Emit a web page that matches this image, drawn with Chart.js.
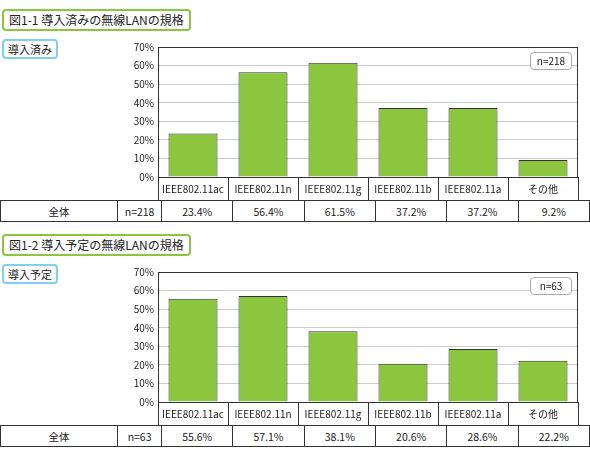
<!DOCTYPE html>
<html><head><meta charset="utf-8">
<script src="https://cdn.jsdelivr.net/npm/chart.js@4"></script>
<style>
body{margin:0;width:590px;height:457px;position:relative;background:#fff;font-family:"Noto Sans CJK JP",sans-serif;font-size:11px;color:#222;overflow:hidden}
.title{position:absolute;left:2px;border:2px solid #8cc63f;border-radius:4px;padding:1px 5px;font-size:12px;line-height:16px;background:#fff}
.tag{position:absolute;left:2px;border:2px solid #7fd0ef;border-radius:4px;padding:1px 4px;font-size:11px;line-height:14px}
.wrap{position:absolute;left:100px;width:480px;height:163px}
.nbox{position:absolute;left:530px;border:1px solid #aaa;border-radius:4px;width:40px;height:16px;line-height:16px;text-align:center;font-size:10px;background:#fff}
table{position:absolute;left:0;width:590px;border-collapse:collapse;table-layout:fixed}
td{border:1px solid #333;height:20px;padding:0;text-align:center;font-size:10.5px}
</style></head><body>
<div class="title" style="top:9px">図1-1 導入済みの無線LANの規格</div>
<div class="tag" style="top:39px">導入済み</div>
<div class="wrap" style="top:37px"><canvas id="c1"></canvas></div>
<div class="nbox" style="top:52px">n=218</div>
<table id="t1" style="top:200px"></table>

<div class="title" style="top:234px">図1-2 導入予定の無線LANの規格</div>
<div class="tag" style="top:264px">導入予定</div>
<div class="wrap" style="top:262px"><canvas id="c2"></canvas></div>
<div class="nbox" style="top:277px">n=63</div>
<table id="t2" style="top:425px"></table>
<script>
var categories = ['IEEE802.11ac', 'IEEE802.11n', 'IEEE802.11g', 'IEEE802.11b', 'IEEE802.11a', 'その他'];
var installed  = [23.4, 56.4, 61.5, 37.2, 37.2, 9.2];
var planned    = [55.6, 57.1, 38.1, 20.6, 28.6, 22.2];
var nInstalled = 218, nPlanned = 63;

function buildTable(id, n, values) {
  var html = '<colgroup><col style="width:115px"><col style="width:43px">' +
    values.map(function() { return '<col style="width:70px">'; }).join('') + '</colgroup><tr><td>全体</td><td>n=' + n + '</td>';
  values.forEach(function(v) { html += '<td>' + v.toFixed(1) + '%</td>'; });
  document.getElementById(id).innerHTML = html + '</tr>';
}

function drawChart(id, values) {
  new Chart(document.getElementById(id), {
    type: 'bar',
    data: { labels: categories, datasets: [{ data: values, backgroundColor: '#8cc63f', borderColor: '#333', borderWidth: 1, barPercentage: 0.7, categoryPercentage: 1 }] },
    options: {
      responsive: false, animation: false,
      layout: { padding: { top: 8, right: 2, bottom: 0, left: 0 } },
      plugins: { legend: { display: false }, tooltip: { enabled: false } },
      scales: {
        x: {
          offset: true,
          afterFit: function(s) { s.height = 23; },
          grid: { offset: true, drawOnChartArea: false, tickLength: 23, color: '#333' },
          border: { color: '#333' },
          ticks: { color: '#222', font: { size: 10, family: 'Noto Sans CJK JP' }, padding: -17, maxRotation: 0 }
        },
        y: {
          min: 0, max: 70,
          afterFit: function(s) { s.width = 58; },
          grid: { color: '#ccc', drawTicks: false },
          border: { color: '#333' },
          ticks: { stepSize: 10, padding: 4, color: '#222', font: { size: 10, family: 'Noto Sans CJK JP' }, callback: function(v) { return v + '%'; } }
        }
      }
    },
    plugins: [{ id: 'frame', afterDraw: function(c) {
      var a = c.chartArea, ctx = c.ctx;
      ctx.save(); ctx.strokeStyle = '#333'; ctx.lineWidth = 1;
      ctx.strokeRect(a.left + 0.5, a.top + 0.5, a.right - a.left - 1, a.bottom - a.top);
      ctx.restore();
    } }]
  });
}

document.querySelectorAll('canvas').forEach(function(cv) { cv.width = 480; cv.height = 163; });
buildTable('t1', nInstalled, installed);
buildTable('t2', nPlanned, planned);
drawChart('c1', installed);
drawChart('c2', planned);
</script>
</body></html>
